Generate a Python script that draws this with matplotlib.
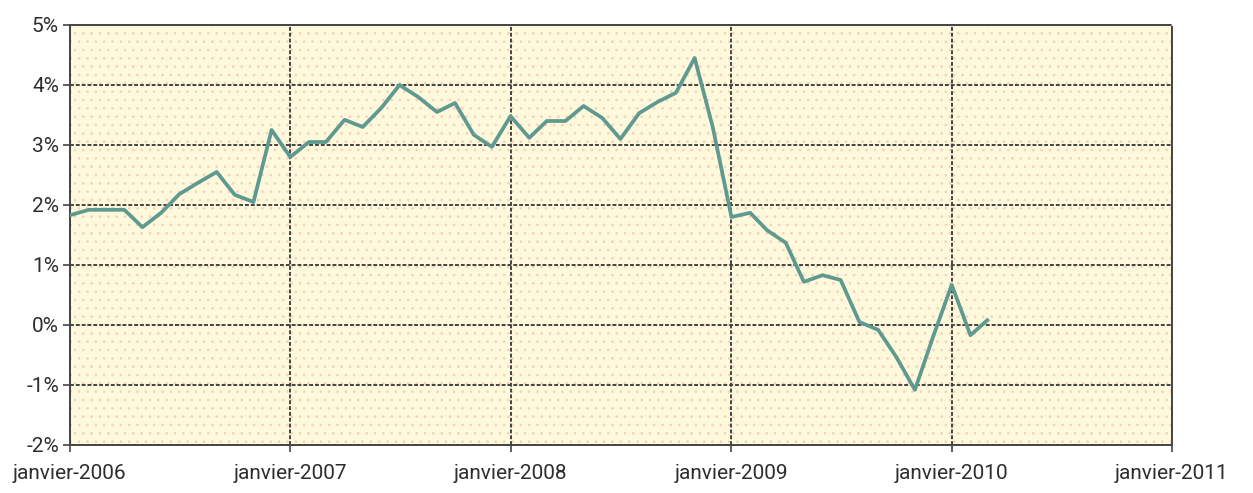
import matplotlib
matplotlib.use("Agg")
import matplotlib.pyplot as plt
from matplotlib.patches import Rectangle
import pandas as pd
from datetime import datetime

# monthly values in %, janvier 2006 -> mars 2010
v2006 = [1.83, 1.92, 1.92, 1.92, 1.63, 1.87, 2.18, 2.37, 2.55, 2.17, 2.05, 3.25]
v2007 = [2.80, 3.05, 3.05, 3.42, 3.30, 3.62, 4.00, 3.80, 3.55, 3.70, 3.17, 2.97]
v2008 = [3.48, 3.12, 3.40, 3.40, 3.65, 3.45, 3.10, 3.53, 3.72, 3.87, 4.45, 3.30]
v2009 = [1.80, 1.87, 1.58, 1.37, 0.72, 0.83, 0.75, 0.05, -0.08, -0.53, -1.08, -0.20]
v2010 = [0.67, -0.17, 0.08]
values = v2006 + v2007 + v2008 + v2009 + v2010
dates = pd.date_range("2006-01-01", periods=len(values), freq="MS")

years = [2006, 2007, 2008, 2009, 2010, 2011]
xlabels = ["janvier-%d" % y for y in years]
yticks = [-2, -1, 0, 1, 2, 3, 4, 5]
ylabels = ["%d%%" % t for t in yticks]

plt.rcParams['font.family'] = ['Roboto', 'DejaVu Sans']
plt.rcParams['hatch.linewidth'] = 0.7
plt.rcParams['hatch.color'] = '#f7cfc4'

fig = plt.figure(figsize=(12.53, 4.93), dpi=100)
ax = fig.add_axes([70 / 1253, 48 / 493, 1102 / 1253, 420 / 493])
ax.set_facecolor('#fff9dc')

# dotted background
ax.add_patch(Rectangle((0, 0), 1, 1, transform=ax.transAxes, facecolor='none',
                       edgecolor='#f7cfc4', hatch='..', linewidth=0, zorder=0))

ax.plot(dates, values, color='#5f9a91', lw=2.7, zorder=3, solid_joinstyle='round')

ax.set_xlim(datetime(2006, 1, 1), datetime(2011, 1, 1))
ax.set_ylim(-2, 5)
ax.set_xticks([datetime(y, 1, 1) for y in years])
ax.set_xticklabels(xlabels, fontsize=15, color='#2e2e2e')
ax.set_yticks(yticks)
ax.set_yticklabels(ylabels, fontsize=15, color='#2e2e2e')
ax.tick_params(axis='x', length=5, width=1.2, color='#444444', pad=9)
ax.tick_params(axis='y', length=5, width=1.2, color='#444444', pad=3)

ax.grid(True, color='#444444', lw=1.4, ls=(0, (2, 1)), zorder=1)
for s in ax.spines.values():
    s.set_color('#444444')
    s.set_linewidth(1.4)
    s.set_linestyle((0, (2, 1)))

fig.savefig("out.png", dpi=100)
